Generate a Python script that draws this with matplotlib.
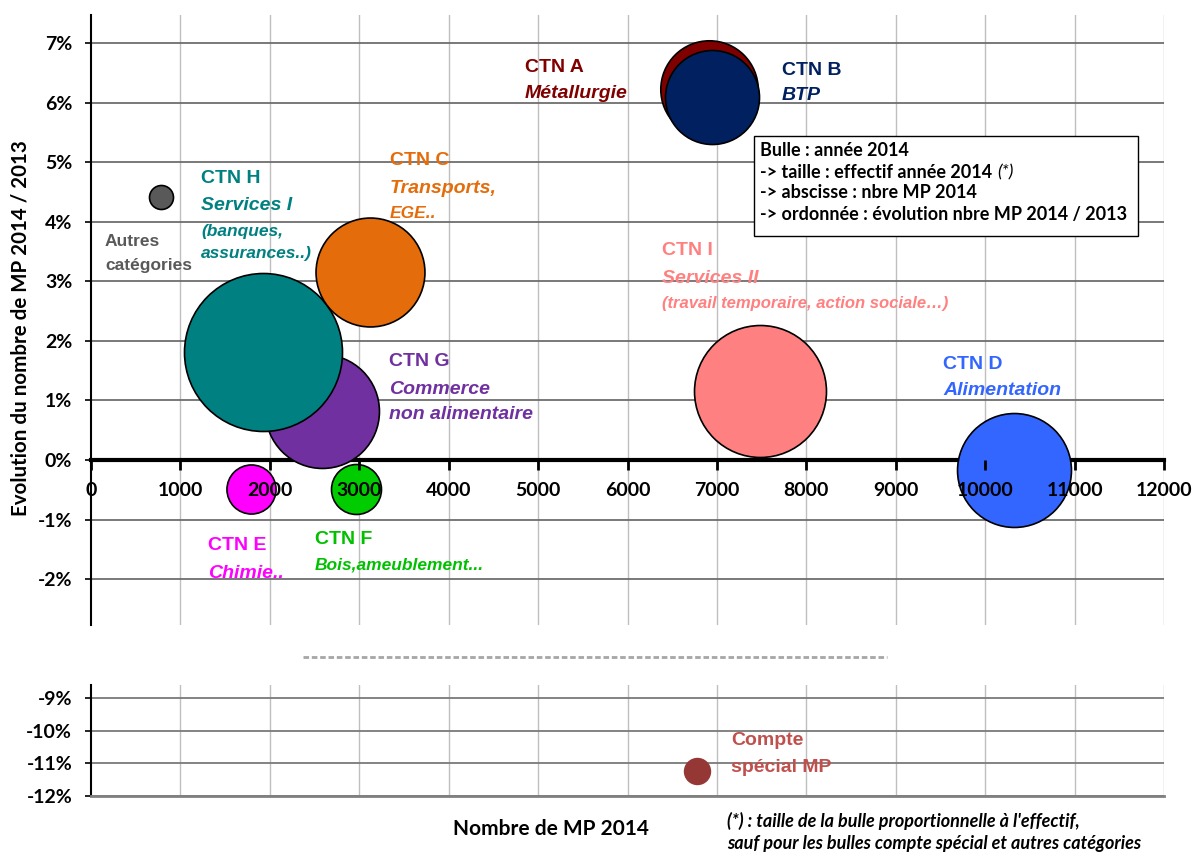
import numpy as np
import matplotlib

matplotlib.use("Agg")
import matplotlib.pyplot as plt
from matplotlib import font_manager
from matplotlib.patches import Rectangle
from matplotlib.lines import Line2D

# -----------------------------
# DATA
# -----------------------------
ctn_names = ["Autres", "CTN E", "CTN F", "CTN G", "CTN H", "CTN C", "CTN A", "CTN B", "CTN I", "CTN D"]
nb_mp_2014 = [780, 1790, 2965, 2585, 1925, 3125, 6915, 6950, 7485, 10325]
evol_mp_pct = [4.41, -0.49, -0.49, 0.82, 1.81, 3.16, 6.23, 6.10, 1.16, -0.17]
# effectif 2014 (thousands of employees), None = bubble not proportional
effectif_2014 = [None, 410, 425, 2210, 4250, 2020, 1615, 1505, 2965, 2210]

special_x = [6780]
special_y = [-11.23]

x_ticks = list(range(0, 12001, 1000))
y_ticks_top = list(range(-2, 8))
y_ticks_bottom = [-9, -10, -11, -12]

bubble_colors = ["#595959", "#FF00FF", "#00CC00", "#7030A0", "#008080",
                 "#E46C0A", "#800000", "#002060", "#FF8080", "#3366FF"]

# -----------------------------
# FONTS
# -----------------------------
names = {f.name for f in font_manager.fontManager.ttflist}
NARROW = "Liberation Sans Narrow" if "Liberation Sans Narrow" in names else "Liberation Sans"
CAL = "Lato"
BIG = 16 if NARROW == "Liberation Sans Narrow" else 14

DPI = 100
PX_PER_PT = DPI / 72.0


def bubble_size(eff, fixed_px=12):
    # radius in px, area proportional to effectif
    if eff is None:
        r = fixed_px
    else:
        r = 79 * np.sqrt(eff / 4250.0)
    d_pt = 2 * r / PX_PER_PT
    return d_pt ** 2


def style_axis(ax, yticks, grid_color):
    ax.set_xlim(0, 12000)
    for s in ["top", "right"]:
        ax.spines[s].set_visible(False)
    ax.spines["left"].set_color("black")
    ax.spines["left"].set_linewidth(1.5)
    ax.set_yticks(yticks)
    ax.set_yticklabels([f"{v}%" for v in yticks], fontfamily=CAL,
                       fontweight="bold", fontsize=14)
    ax.tick_params(axis="y", direction="out", length=4.5, width=1.2, pad=9)
    # manual grid so it stays under the bubbles
    for x in x_ticks[1:]:
        ax.axvline(x, color="#bfbfbf", lw=1, zorder=0.5)
    for y in yticks:
        ax.axhline(y, color=grid_color, lw=1.3, zorder=0.6)


def add_label(ax, x, lines, color):
    for y, txt, style, size in lines:
        ax.text(x, y, txt, color=color, fontfamily=NARROW, fontweight="bold",
                fontstyle=style, fontsize=size, ha="left", va="center", zorder=7)


def main():
    fig = plt.figure(figsize=(11.94, 8.52), dpi=DPI)
    ax = fig.add_axes([0.0762, 0.2664, 0.8987, 0.716])
    ax_b = fig.add_axes([0.0762, 0.0657, 0.8987, 0.1303])

    # -----------------------------
    # Top panel
    # -----------------------------
    ax.set_ylim(-2.77, 7.47)
    style_axis(ax, y_ticks_top, "#6e6e6e")
    ax.spines["bottom"].set_position(("data", 0))
    ax.spines["bottom"].set_linewidth(3)
    ax.spines["bottom"].set_color("black")
    ax.spines["bottom"].set_zorder(2)
    ax.set_xticks(x_ticks)
    ax.set_xticklabels([str(v) for v in x_ticks], fontfamily=CAL,
                       fontweight="bold", fontsize=14)
    ax.tick_params(axis="x", direction="out", length=7, width=2, pad=9)
    ax.xaxis.set_zorder(6)

    sizes = [bubble_size(e) for e in effectif_2014]
    for i in range(len(ctn_names)):
        ax.scatter(nb_mp_2014[i], evol_mp_pct[i], s=sizes[i], color=bubble_colors[i],
                   edgecolor="black", linewidth=1.2, zorder=3 + i * 0.1)

    add_label(ax, 4855, [(6.59, "CTN A", "normal", BIG), (6.16, "Métallurgie", "italic", BIG)], "#800000")
    add_label(ax, 7729, [(6.54, "CTN B", "normal", BIG), (6.12, "BTP", "italic", BIG)], "#002060")
    add_label(ax, 3345, [(5.02, "CTN C", "normal", BIG), (4.55, "Transports,", "italic", BIG),
                         (4.13, "EGE..", "italic", 12.5)], "#E46C0A")
    add_label(ax, 1230, [(4.73, "CTN H", "normal", BIG), (4.28, "Services I", "italic", BIG),
                         (3.84, "(banques,", "italic", 12.5), (3.46, "assurances..)", "italic", 12.5)], "#008080")
    add_label(ax, 157, [(3.66, "Autres", "normal", 12.5), (3.26, "catégories", "normal", 12.5)], "#595959")
    add_label(ax, 6387, [(3.51, "CTN I", "normal", BIG), (3.05, "Services II", "italic", BIG),
                         (2.63, "(travail temporaire, action sociale…)", "italic", 12)], "#FF8080")
    add_label(ax, 3333, [(1.66, "CTN G", "normal", BIG), (1.19, "Commerce", "italic", BIG),
                         (0.76, "non alimentaire", "italic", BIG)], "#7030A0")
    add_label(ax, 9530, [(1.61, "CTN D", "normal", BIG), (1.17, "Alimentation", "italic", BIG)], "#3366FF")
    add_label(ax, 1309, [(-1.44, "CTN E", "normal", BIG), (-1.90, "Chimie..", "italic", BIG)], "#FF00FF")
    add_label(ax, 2506, [(-1.34, "CTN F", "normal", BIG), (-1.76, "Bois,ameublement...", "italic", 12.5)], "#00C000")

    # -----------------------------
    # Bottom panel (compte special)
    # -----------------------------
    ax_b.set_ylim(-12, -8.6)
    style_axis(ax_b, y_ticks_bottom, "#7a7a7a")
    ax_b.spines["bottom"].set_color("#808080")
    ax_b.spines["bottom"].set_linewidth(2)
    ax_b.set_xticks([])
    ax_b.scatter(special_x, special_y, s=bubble_size(None, 13), color="#953735",
                 edgecolor="#953735", zorder=3)
    add_label(ax_b, 7159, [(-10.31, "Compte", "normal", BIG), (-11.14, "spécial MP", "normal", BIG)], "#C0504D")

    # broken axis marker
    fig.add_artist(Line2D([0.2538, 0.7429], [0.2289, 0.2289], transform=fig.transFigure,
                          color="#a6a6a6", lw=2, ls=(0, (2, 1))))

    # -----------------------------
    # Axis titles and notes
    # -----------------------------
    fig.text(0.0175, 0.615, "Evolution du nombre de MP 2014 / 2013", rotation=90,
             fontfamily=CAL, fontweight="bold", fontsize=14.8, ha="center", va="center")
    fig.text(0.4615, 0.027, "Nombre de MP 2014", fontfamily=CAL, fontweight="bold",
             fontsize=15, ha="center", va="center")
    fig.text(0.609, 0.0364, "(*) : taille de la bulle proportionnelle à l'effectif,",
             fontfamily=CAL, fontweight="bold", fontstyle="italic", fontsize=13, va="center")
    fig.text(0.609, 0.0094, "sauf pour les bulles compte spécial et autres catégories",
             fontfamily=CAL, fontweight="bold", fontstyle="italic", fontsize=13, va="center")

    # legend box
    fig.add_artist(Rectangle((0.6315, 0.723), 0.3216, 0.1174, transform=fig.transFigure,
                             facecolor="white", edgecolor="black", lw=1, zorder=5))
    box_lines = ["Bulle : année 2014", "-> taille : effectif année 2014",
                 "-> abscisse : nbre MP 2014", "-> ordonnée : évolution nbre MP 2014 / 2013"]
    box_y = [0.8228, 0.7981, 0.7735, 0.7488]
    texts = []
    for txt, y in zip(box_lines, box_y):
        t = fig.text(0.6365, y, txt, fontfamily=CAL, fontweight="bold", fontsize=13,
                     va="center", zorder=6)
        texts.append(t)
    renderer = fig.canvas.get_renderer()
    bb = texts[1].get_window_extent(renderer)
    fig.text(bb.x1 / fig.bbox.width + 0.004, box_y[1], "(*)", fontfamily=CAL,
             fontstyle="italic", fontsize=13, va="center", zorder=6)

    plt.savefig("out.png", dpi=DPI)
    plt.close()


if __name__ == "__main__":
    main()
